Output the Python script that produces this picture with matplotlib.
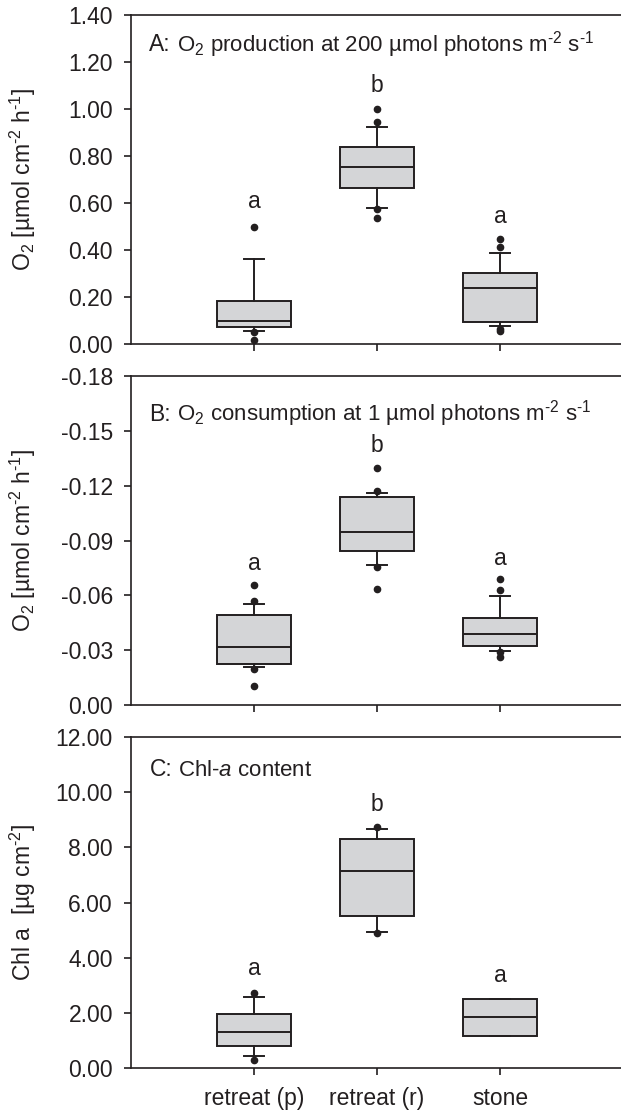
import matplotlib
matplotlib.use("Agg")
import matplotlib.pyplot as plt

plt.rcParams['font.family'] = ['Liberation Sans', 'DejaVu Sans']
plt.rcParams['mathtext.fontset'] = 'custom'
plt.rcParams['mathtext.rm'] = 'Liberation Sans'
plt.rcParams['mathtext.it'] = 'Liberation Sans:italic'
plt.rcParams['mathtext.default'] = 'regular'

categories = ["retreat (p)", "retreat (r)", "stone"]

# Panel A: O2 production
a_med = [0.099, 0.752, 0.239]
a_q1 = [0.071, 0.665, 0.092]
a_q3 = [0.182, 0.839, 0.303]
a_lo = [0.054, 0.578, 0.075]
a_hi = [0.362, 0.924, 0.386]
a_fliers = [[0.499, 0.050, 0.018], [0.999, 0.946, 0.573, 0.535], [0.446, 0.412, 0.064, 0.054]]
a_letters = ["a", "b", "a"]
a_letter_y = [0.615, 1.11, 0.552]

# Panel B: O2 consumption
b_med = [-0.0318, -0.0945, -0.0391]
b_q1 = [-0.0227, -0.0845, -0.0325]
b_q3 = [-0.0491, -0.1136, -0.0476]
b_lo = [-0.0207, -0.0764, -0.0298]
b_hi = [-0.0553, -0.1162, -0.0595]
b_fliers = [[-0.0656, -0.0569, -0.0198, -0.0105], [-0.1296, -0.1170, -0.0755, -0.0636],
            [-0.0687, -0.0627, -0.0291, -0.0265]]
b_letters = ["a", "b", "a"]
b_letter_y = [-0.079, -0.1436, -0.0813]

# Panel C: Chl a
c_med = [1.29, 7.15, 1.85]
c_q1 = [0.79, 5.50, 1.15]
c_q3 = [1.94, 8.32, 2.49]
c_lo = [0.425, 4.94, 1.15]
c_hi = [2.58, 8.68, 2.49]
c_fliers = [[2.71, 0.30], [8.72, 4.89], []]
c_letters = ["a", "b", "a"]
c_letter_y = [3.68, 9.66, 3.44]

W, H = 621, 1111
fig = plt.figure(figsize=(W / 100, H / 100), dpi=100)

left_px, right_px = 131, 623
panels_px = [(15, 344), (376, 705), (737, 1068)]

dark = '#231f20'
face = '#d4d5d7'
FS = 16.5
TFS = 16.0


def make_ax(top, bot):
    return fig.add_axes([left_px / W, 1 - bot / H, (right_px - left_px) / W, (bot - top) / H])


def draw_panel(ax, med, q1, q3, lo, hi, fliers, letters, letter_y):
    stats = []
    for i in range(len(categories)):
        stats.append(dict(med=med[i], q1=q1[i], q3=q3[i], whislo=lo[i], whishi=hi[i],
                          fliers=fliers[i], label=categories[i]))
    ax.bxp(stats, positions=[1, 2, 3], widths=0.6, capwidths=0.16, patch_artist=True,
           boxprops=dict(facecolor=face, edgecolor=dark, linewidth=1.4),
           medianprops=dict(color=dark, linewidth=1.4),
           whiskerprops=dict(color=dark, linewidth=1.4),
           capprops=dict(color=dark, linewidth=1.4),
           flierprops=dict(marker='o', markerfacecolor=dark, markeredgecolor=dark,
                           markersize=4.5, linestyle='none'))
    for i, (t, y) in enumerate(zip(letters, letter_y)):
        ax.text(i + 1, y, t, ha='center', va='center_baseline', fontsize=FS, color=dark)
    ax.set_xlim(0, 4)
    ax.spines['right'].set_visible(False)
    for s in ['left', 'top', 'bottom']:
        ax.spines[s].set_linewidth(1.2)
        ax.spines[s].set_color(dark)
    ax.tick_params(axis='y', direction='out', length=5, width=1.2, color=dark,
                   labelsize=FS, pad=8, labelcolor=dark)
    ax.tick_params(axis='x', direction='out', length=5, width=1.2, color=dark,
                   labelsize=FS, pad=9, labelcolor=dark)
    ax.set_xticks([1, 2, 3])
    ax.yaxis.set_major_formatter(matplotlib.ticker.FormatStrFormatter('%.2f'))


def panel_title(ax, letter, rest, y, rest_fs):
    t1 = ax.text(0.15, y, letter, fontsize=FS, va='baseline', ha='left', color=dark)
    ax.annotate(rest, xy=(1.0, y), xycoords=(t1, 'data'), fontsize=rest_fs,
                va='baseline', ha='left', color=dark)


ylab_o2 = 'O$_2$ [µmol cm$^{\\text{-}2}$ h$^{\\text{-}1}$]'

# Panel A
axA = make_ax(*panels_px[0])
draw_panel(axA, a_med, a_q1, a_q3, a_lo, a_hi, a_fliers, a_letters, a_letter_y)
axA.set_ylim(0, 1.4)
axA.set_yticks([0, 0.2, 0.4, 0.6, 0.8, 1.0, 1.2, 1.4])
axA.set_xticklabels([])
axA.set_ylabel(ylab_o2, fontsize=FS, color=dark)
axA.yaxis.set_label_coords(-0.19, 0.5)
panel_title(axA, 'A:', ' O$_2$ production at 200 µmol photons m$^{\\text{-}2}$ s$^{\\text{-}1}$', 1.245, TFS)

# Panel B
axB = make_ax(*panels_px[1])
draw_panel(axB, b_med, b_q1, b_q3, b_lo, b_hi, b_fliers, b_letters, b_letter_y)
axB.set_ylim(0, -0.18)
axB.set_yticks([0, -0.03, -0.06, -0.09, -0.12, -0.15, -0.18])
axB.set_xticklabels([])
axB.set_ylabel(ylab_o2, fontsize=FS, color=dark)
axB.yaxis.set_label_coords(-0.19, 0.5)
panel_title(axB, 'B:', ' O$_2$ consumption at 1 µmol photons m$^{\\text{-}2}$ s$^{\\text{-}1}$', -0.1555, TFS)

# Panel C
axC = make_ax(*panels_px[2])
draw_panel(axC, c_med, c_q1, c_q3, c_lo, c_hi, c_fliers, c_letters, c_letter_y)
axC.set_ylim(0, 12)
axC.set_yticks([0, 2, 4, 6, 8, 10, 12])
axC.set_xticklabels(categories)
axC.set_ylabel('Chl a  [µg cm$^{\\text{-}2}$]', fontsize=FS, color=dark)
axC.yaxis.set_label_coords(-0.19, 0.5)
panel_title(axC, 'C:', ' Chl-$\\it{a}$ content', 10.6, TFS)

fig.savefig('out.png', dpi=100)
